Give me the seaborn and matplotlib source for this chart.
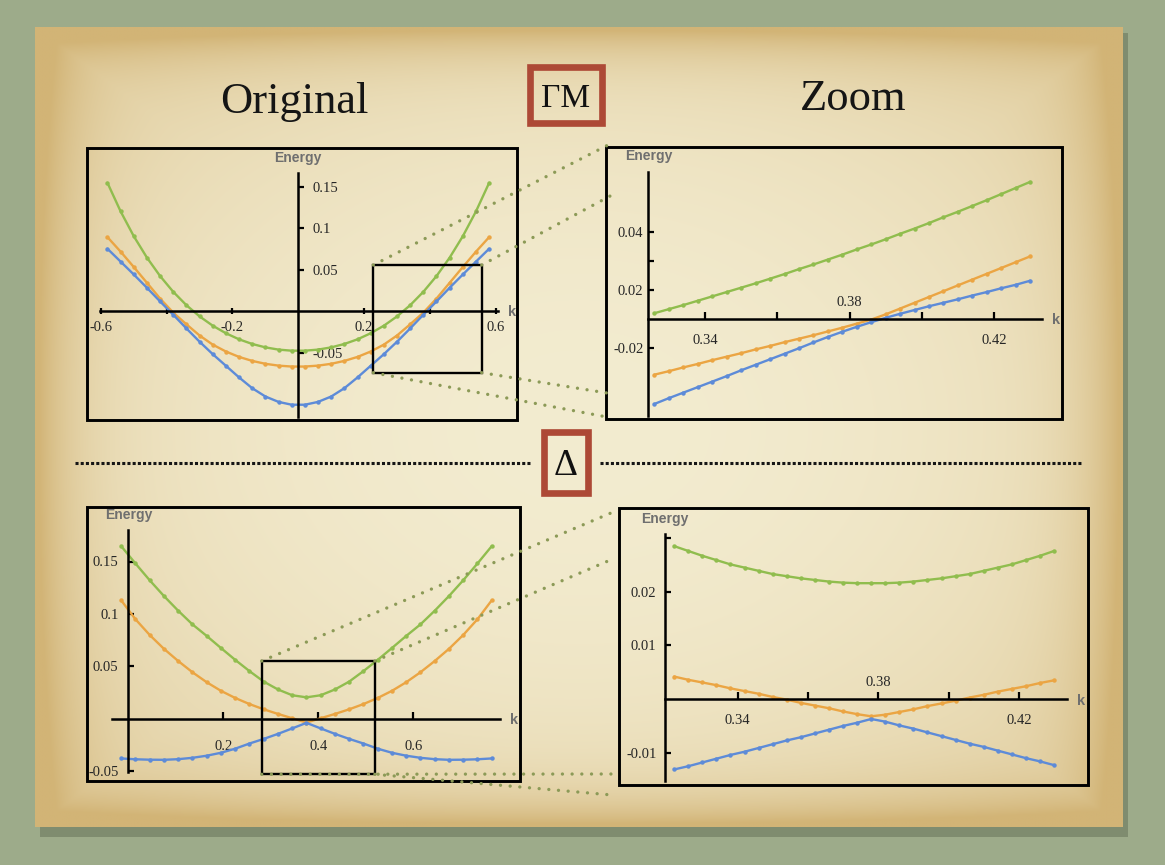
import numpy as np
import matplotlib
matplotlib.use("Agg")
import matplotlib.pyplot as plt
from matplotlib.patches import Rectangle
import seaborn as sns

# ---------------- data ----------------
# Gamma-M, original range
k_gm = [-0.58, -0.54, -0.50, -0.46, -0.42, -0.38, -0.34, -0.30, -0.26, -0.22,
        -0.18, -0.14, -0.10, -0.06, -0.02, 0.02, 0.06, 0.10, 0.14, 0.18,
        0.22, 0.26, 0.30, 0.34, 0.38, 0.42, 0.46, 0.50, 0.54, 0.58]
gm_green = [0.1544, 0.1200, 0.0901, 0.0643, 0.0421, 0.0231, 0.0070, -0.0065, -0.0177, -0.0268,
            -0.0341, -0.0397, -0.0438, -0.0465, -0.0478, -0.0478, -0.0465, -0.0438, -0.0397, -0.0341,
            -0.0268, -0.0177, -0.0065, 0.0070, 0.0231, 0.0421, 0.0643, 0.0901, 0.1200, 0.1544]
gm_orange = [0.0890, 0.0715, 0.0530, 0.0340, 0.0150, -0.0020, -0.0160, -0.0295, -0.0405, -0.0488,
             -0.0553, -0.0601, -0.0636, -0.0658, -0.0669, -0.0669, -0.0658, -0.0636, -0.0601, -0.0553,
             -0.0488, -0.0405, -0.0295, -0.0160, -0.0020, 0.0150, 0.0340, 0.0530, 0.0715, 0.0890]
gm_blue = [0.0750, 0.0595, 0.0440, 0.0280, 0.0115, -0.0045, -0.0210, -0.0370, -0.0520, -0.0660,
           -0.0800, -0.0930, -0.1030, -0.1095, -0.1129, -0.1129, -0.1095, -0.1030, -0.0930, -0.0800,
           -0.0660, -0.0520, -0.0370, -0.0210, -0.0045, 0.0115, 0.0280, 0.0440, 0.0595, 0.0750]

# Gamma-M, zoom
k_gmz = [0.326, 0.330, 0.334, 0.338, 0.342, 0.346, 0.350, 0.354, 0.358, 0.362,
         0.366, 0.370, 0.374, 0.378, 0.382, 0.386, 0.390, 0.394, 0.398, 0.402,
         0.406, 0.410, 0.414, 0.418, 0.422, 0.426, 0.430]
gmz_green = [0.0020, 0.0034, 0.0048, 0.0063, 0.0078, 0.0093, 0.0108, 0.0123, 0.0139, 0.0155,
             0.0172, 0.0188, 0.0205, 0.0222, 0.0240, 0.0257, 0.0275, 0.0294, 0.0312, 0.0331,
             0.0351, 0.0370, 0.0390, 0.0410, 0.0431, 0.0452, 0.0473]
gmz_orange = [-0.0192, -0.0180, -0.0167, -0.0155, -0.0142, -0.0130, -0.0118, -0.0105, -0.0093, -0.0080,
              -0.0068, -0.0056, -0.0043, -0.0030, -0.0016, -0.0002, 0.0016, 0.0036, 0.0056, 0.0076,
              0.0096, 0.0116, 0.0136, 0.0156, 0.0176, 0.0196, 0.0216]
gmz_blue = [-0.0293, -0.0273, -0.0254, -0.0235, -0.0216, -0.0197, -0.0177, -0.0158, -0.0139, -0.0120,
            -0.0101, -0.0081, -0.0062, -0.0044, -0.0027, -0.0011, 0.0004, 0.0018, 0.0031, 0.0044,
            0.0056, 0.0068, 0.0081, 0.0093, 0.0106, 0.0118, 0.0132]

# Delta, original range
k_d = [-0.015, 0.015, 0.045, 0.075, 0.105, 0.135, 0.165, 0.195, 0.225, 0.255,
       0.285, 0.315, 0.345, 0.375, 0.405, 0.435, 0.465, 0.495, 0.525, 0.555,
       0.585, 0.615, 0.645, 0.675, 0.705, 0.735, 0.765]
d_green = [0.1646, 0.1481, 0.1321, 0.1171, 0.1031, 0.0901, 0.0791, 0.0676, 0.0563, 0.0456,
           0.0356, 0.0281, 0.0226, 0.0206, 0.0226, 0.0281, 0.0356, 0.0456, 0.0563, 0.0676,
           0.0791, 0.0901, 0.1031, 0.1171, 0.1321, 0.1481, 0.1646]
d_orange = [0.1130, 0.0950, 0.0800, 0.0668, 0.0552, 0.0445, 0.0350, 0.0268, 0.0200, 0.0142,
            0.0092, 0.0048, 0.0007, -0.0034, 0.0007, 0.0048, 0.0092, 0.0142, 0.0200, 0.0268,
            0.0350, 0.0445, 0.0552, 0.0668, 0.0800, 0.0950, 0.1130]
d_blue = [-0.0376, -0.0384, -0.0388, -0.0389, -0.0383, -0.0370, -0.0350, -0.0322, -0.0283, -0.0234,
          -0.0190, -0.0142, -0.0090, -0.0037, -0.0090, -0.0142, -0.0190, -0.0234, -0.0283, -0.0322,
          -0.0350, -0.0370, -0.0383, -0.0389, -0.0388, -0.0384, -0.0376]

# Delta, zoom
k_dz = [0.322, 0.326, 0.330, 0.334, 0.338, 0.342, 0.346, 0.350, 0.354, 0.358,
        0.362, 0.366, 0.370, 0.374, 0.378, 0.382, 0.386, 0.390, 0.394, 0.398,
        0.402, 0.406, 0.410, 0.414, 0.418, 0.422, 0.426, 0.430]
dz_green = [0.0285, 0.0276, 0.0267, 0.0259, 0.0251, 0.0245, 0.0239, 0.0233, 0.0229, 0.0225,
            0.0222, 0.0219, 0.0217, 0.0216, 0.0216, 0.0216, 0.0217, 0.0219, 0.0222, 0.0225,
            0.0229, 0.0233, 0.0239, 0.0245, 0.0251, 0.0259, 0.0267, 0.0276]
dz_orange = [0.0042, 0.0036, 0.0031, 0.0026, 0.0020, 0.0015, 0.0010, 0.0004, -0.0001, -0.0007,
             -0.0012, -0.0017, -0.0023, -0.0028, -0.0032, -0.0029, -0.0024, -0.0019, -0.0013, -0.0008,
             -0.0003, 0.0003, 0.0008, 0.0014, 0.0019, 0.0024, 0.0030, 0.0035]
dz_blue = [-0.0131, -0.0125, -0.0118, -0.0111, -0.0104, -0.0098, -0.0091, -0.0084, -0.0077, -0.0071,
           -0.0064, -0.0057, -0.0050, -0.0044, -0.0037, -0.0042, -0.0049, -0.0055, -0.0062, -0.0069,
           -0.0076, -0.0083, -0.0089, -0.0096, -0.0103, -0.0110, -0.0116, -0.0123]

# tick positions / labels as printed on the slide
gm_xticks = [-0.6, -0.4, -0.2, 0.2, 0.4, 0.6]
gm_xlabels = ["-0.6", "", "-0.2", "0.2", "", "0.6"]
gm_yticks = [0.15, 0.1, 0.05, -0.05]
gm_ylabels = ["0.15", "0.1", "0.05", "-0.05"]
gmz_xticks = [0.34, 0.36, 0.38, 0.40, 0.42]
gmz_xlabels = ["0.34", "", "", "", "0.42"]
gmz_yticks = [0.03, 0.02, 0.01, -0.01]
gmz_ylabels = ["0.04", "", "0.02", "-0.02"]
d_xticks = [0.2, 0.4, 0.6]
d_xlabels = ["0.2", "0.4", "0.6"]
d_yticks = [0.15, 0.1, 0.05, -0.05]
d_ylabels = ["0.15", "0.1", "0.05", "-0.05"]
dz_xticks = [0.34, 0.36, 0.38, 0.40, 0.42]
dz_xlabels = ["0.34", "", "", "", "0.42"]
dz_yticks = [0.03, 0.02, 0.01, -0.01]
dz_ylabels = ["", "0.02", "0.01", "-0.01"]

GREEN, ORANGE, BLUE = "#90bd4e", "#eba543", "#5d8bd8"
GREY = "#6f6f6f"
RED = "#ad4936"
SANS = ["Liberation Sans", "DejaVu Sans"]

sns.set_style("white")
plt.rcParams["font.family"] = ["Liberation Serif", "DejaVu Serif"]

W, H = 1165, 865
fig = plt.figure(figsize=(W / 100, H / 100), dpi=100)
fig.patch.set_facecolor("#9dab8a")

# background: parchment sheet
bg = fig.add_axes([0, 0, 1, 1], zorder=-5)
bg.axis("off")
bg.add_patch(Rectangle((40, 33), 1088, 804, color="#5c6750", alpha=0.45, lw=0, zorder=0))
yy, xx = np.mgrid[0:1:300j, 0:1:420j]
u, v = xx * 2 - 1, yy * 2 - 1
w = np.clip(0.30 * (u ** 2 + v ** 2) + 0.75 * np.maximum(np.abs(u), np.abs(v)) ** 14, 0, 1)
c_mid = np.array([243, 236, 208]) / 255
c_edge = np.array([210, 180, 118]) / 255
paper = c_mid * (1 - w[..., None]) + c_edge * w[..., None]
bg.imshow(paper, extent=(35, 1123, 827, 27), aspect="auto", interpolation="bilinear", zorder=1)
bg.set_xlim(0, W)
bg.set_ylim(H, 0)


def fig_rect(x1, y1, x2, y2):
    return [x1 / W, 1 - y2 / H, (x2 - x1) / W, (y2 - y1) / H]


def panel(rect, xlim, ylim, x0, xb, yb, k, curves, xt, xtl, yt, ytl,
          yside="left", xdir="in", xpad=11, ypad=6, top_label=None):
    ax = fig.add_axes(fig_rect(*rect))
    ax.set_facecolor("none")
    for c, e in zip([GREEN, ORANGE, BLUE], curves):
        sns.lineplot(x=k, y=e, ax=ax, color=c, lw=1.7, marker="o", markersize=3.2,
                     markeredgewidth=0, errorbar=None)
    ax.set_xlim(*xlim)
    ax.set_ylim(*ylim)
    ax.set_xlabel("")
    ax.set_ylabel("")
    for s in ax.spines.values():
        s.set_visible(False)
    sb = ax.spines["bottom"]
    sb.set_visible(True)
    sb.set_position(("data", 0))
    sb.set_bounds(*xb)
    sv = ax.spines[yside]
    sv.set_visible(True)
    sv.set_position(("data", x0))
    sv.set_bounds(*yb)
    for s in (sb, sv):
        s.set_linewidth(1.8)
        s.set_color("black")
    ax.xaxis.set_ticks_position("bottom")
    ax.yaxis.set_ticks_position(yside)
    ax.set_xticks(xt, xtl)
    ax.set_yticks(yt, ytl)
    ax.tick_params(axis="x", direction=xdir, length=5, width=1.6, pad=xpad, labelsize=10.5, color="black")
    ax.tick_params(axis="y", direction="out" if yside == "right" else "in", length=4.5, width=1.6,
                   pad=ypad, labelsize=10.5, color="black")
    # frame
    ax.add_patch(Rectangle((0, 0), 1, 1, transform=ax.transAxes, fill=False, lw=2.1,
                           ec="black", clip_on=False, zorder=5))
    ax.annotate("Energy", xy=(x0, yb[1]), xytext=(0, 11), textcoords="offset points",
                ha="center", va="center", family=SANS, weight="bold", color=GREY, fontsize=10)
    ax.annotate("k", xy=(xb[1], 0), xytext=(10, -1), textcoords="offset points",
                ha="center", va="center", family=SANS, weight="bold", color=GREY, fontsize=10.5)
    if top_label:
        ax.annotate(top_label[1], xy=(top_label[0], 0), xytext=(0, 7), textcoords="offset points",
                    ha="center", va="bottom", fontsize=10.5)
    return ax


ax1 = panel((87, 147.5, 517, 420), (-0.6422, 0.6647), (-0.1313, 0.197), 0.0,
            (-0.603, 0.607), (-0.128, 0.166), k_gm, [gm_green, gm_orange, gm_blue],
            gm_xticks, gm_xlabels, gm_yticks, gm_ylabels, yside="right", xdir="inout", xpad=5, ypad=6)
ax2 = panel((605.7, 146.5, 1062, 419), (0.3125, 0.4388), (-0.0345, 0.0595), 0.3243,
            (0.3243, 0.4332), (-0.0333, 0.0508), k_gmz, [gmz_green, gmz_orange, gmz_blue],
            gmz_xticks, gmz_xlabels, gmz_yticks, gmz_ylabels, xpad=11, ypad=3.5, top_label=(0.38, "0.38"))
ax3 = panel((87, 506.7, 519.5, 780.7), (-0.0870, 0.8235), (-0.0588, 0.2022), 0.0,
            (-0.0344, 0.7825), (-0.0502, 0.18), k_d, [d_green, d_orange, d_blue],
            d_xticks, d_xlabels, d_yticks, d_ylabels, xpad=15, ypad=7)
ax4 = panel((619, 507.5, 1087.5, 785), (0.3063, 0.4395), (-0.0160, 0.0357), 0.3193,
            (0.3193, 0.4336), (-0.0153, 0.0307), k_dz, [dz_green, dz_orange, dz_blue],
            dz_xticks, dz_xlabels, dz_yticks, dz_ylabels, xpad=11, ypad=6, top_label=(0.38, "0.38"))

# zoom boxes
ax1.add_patch(Rectangle((0.228, -0.0743), 0.3294, 0.1297, fill=False, lw=1.7, ec="black", zorder=4))
ax3.add_patch(Rectangle((0.2808, -0.0527), 0.2382, 0.1079, fill=False, lw=1.7, ec="black", zorder=4))

# foreground overlay: connectors, separators, headings
fg = fig.add_axes([0, 0, 1, 1], zorder=10)
fg.set_xlim(0, W)
fg.set_ylim(H, 0)
fg.axis("off")
fg.patch.set_alpha(0)

links = [
    (ax1, (0.228, 0.0554), (608, 145)), (ax1, (0.5574, 0.0554), (612, 195)),
    (ax1, (0.228, -0.0743), (607, 417)), (ax1, (0.5574, -0.0743), (607, 393)),
    (ax3, (0.2808, 0.0552), (618, 510)), (ax3, (0.519, 0.0552), (615, 558)),
    (ax3, (0.2808, -0.0527), (612, 774)), (ax3, (0.519, -0.0527), (612, 795)),
]
for a, corner, end in links:
    p = fg.transData.inverted().transform(a.transData.transform(corner))
    fg.plot([p[0], end[0]], [p[1], end[1]], color="#8c9a57", lw=2.4,
            linestyle=(0, (0.01, 2.9)), dash_capstyle="round")

fg.plot([75, 531], [462.5, 462.5], color="#151515", lw=2.2, linestyle=(0, (1, 0.7)), dash_capstyle="butt")
fg.plot([600, 1083], [462.5, 462.5], color="#151515", lw=2.2, linestyle=(0, (1, 0.7)), dash_capstyle="butt")

fg.add_patch(Rectangle((530, 66.6), 71.7, 56.8, fill=False, ec=RED, lw=4.8))
fg.add_patch(Rectangle((543.5, 431.8), 44.7, 60.7, fill=False, ec=RED, lw=4.8))
fg.text(566, 107, "ΓM", ha="center", va="baseline", fontsize=24, color="#111111")
fg.text(566, 475, "Δ", ha="center", va="baseline", fontsize=27, color="#111111")
fg.text(294, 113, "Original", ha="center", va="baseline", fontsize=32, color="#151515")
fg.text(853, 110, "Zoom", ha="center", va="baseline", fontsize=32, color="#151515")

fig.savefig("out.png", dpi=100, facecolor=fig.get_facecolor())
